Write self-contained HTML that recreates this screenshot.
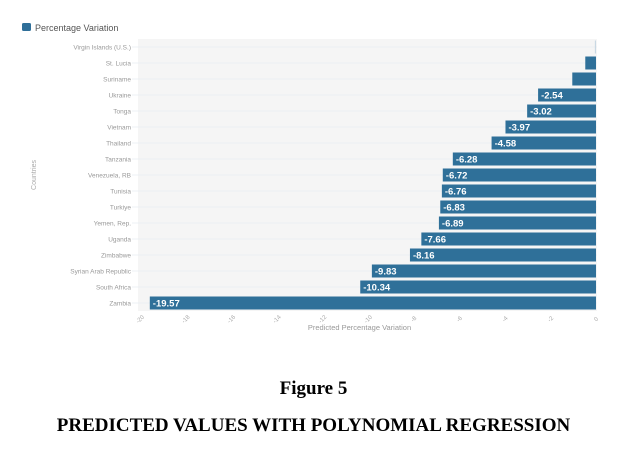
<!DOCTYPE html>
<html><head><meta charset="utf-8"><style>
body{margin:0;background:#fff;width:627px;height:452px;overflow:hidden;font-family:"Liberation Sans",sans-serif}
svg text{font-family:"Liberation Sans",sans-serif}
.cap{position:absolute;left:0;width:627px;text-align:center;font-family:"Liberation Serif",serif;font-weight:bold;color:#000}
</style></head><body>
<svg id="chart" width="627" height="360" style="position:absolute;left:0;top:0"></svg>
<div class="cap" style="top:378px;font-size:19px">Figure 5</div>
<div class="cap" style="top:415px;font-size:19px">PREDICTED VALUES WITH POLYNOMIAL REGRESSION</div>
<script>
const categories=["Virgin Islands (U.S.)","St. Lucia","Suriname","Ukraine","Tonga","Vietnam","Thailand","Tanzania","Venezuela, RB","Tunisia","Turkiye","Yemen, Rep.","Uganda","Zimbabwe","Syrian Arab Republic","South Africa","Zambia"];
const values=[-0.05,-0.47,-1.04,-2.54,-3.02,-3.97,-4.58,-6.28,-6.72,-6.76,-6.83,-6.89,-7.66,-8.16,-9.83,-10.34,-19.57];
const labels=["","","","-2.54","-3.02","-3.97","-4.58","-6.28","-6.72","-6.76","-6.83","-6.89","-7.66","-8.16","-9.83","-10.34","-19.57"];
const ticks=[-20,-18,-16,-14,-12,-10,-8,-6,-4,-2,0];
const NS="http://www.w3.org/2000/svg";
const svg=document.getElementById('chart');
const L=138,R=597,T=39,B=311,x0=596,x20=140;
const xs=v=>x0+(v/20)*(x0-x20);
const rowH=(B-T)/categories.length;
const ys=i=>T+rowH*i+rowH/2;
function mk(t,a,p){const e=document.createElementNS(NS,t);for(const k in a)e.setAttribute(k,a[k]);(p||svg).appendChild(e);return e;}
let e;
e=mk('rect',{x:L,y:T,width:R-L,height:B-T,fill:'#f5f5f5'});


e=mk('rect',{x:22,y:23,width:9,height:8,rx:1.5,fill:'#2f6f99'});


e=mk('text',{x:35,y:31,'font-size':9,fill:'#555'});e.textContent='Percentage Variation';


categories.forEach((c,i)=>{
 const y=ys(i);
 let g=mk('line',{x1:L-6,x2:R,y1:y,y2:y,stroke:'#e6ebf0','stroke-width':0.7});
 
 
 let t=mk('text',{x:L-7,y:y+2.5,'font-size':6.5,fill:'#999','text-anchor':'end'});t.textContent=c;
 
 
 const v=values[i];
 let b=mk('rect',{x:xs(v),y:y-6.5,width:x0-xs(v),height:13,fill:i===0?'#c9d8e3':'#2f7099'});
 
 
 if(labels[i]){let l=mk('text',{x:xs(v)+3,y:y+3.5,'font-size':9.5,'font-weight':'bold',fill:'#fff'});l.textContent=labels[i];
 
 }
});
ticks.forEach(t=>{
 const x=xs(t);
 let k=mk('text',{x:x,y:B+10,'font-size':6,fill:'#aaa','text-anchor':'middle',transform:`rotate(-45 ${x} ${B+8})`});k.textContent=t;
 
 
});
e=mk('text',{x:(L+R)/2-8,y:B+19,'font-size':7.5,fill:'#999','text-anchor':'middle'});e.textContent='Predicted Percentage Variation';


e=mk('text',{x:36,y:175,'font-size':7,fill:'#aaa','text-anchor':'middle',transform:'rotate(-90 36 175)'});e.textContent='Countries';


</script>
</body></html>
